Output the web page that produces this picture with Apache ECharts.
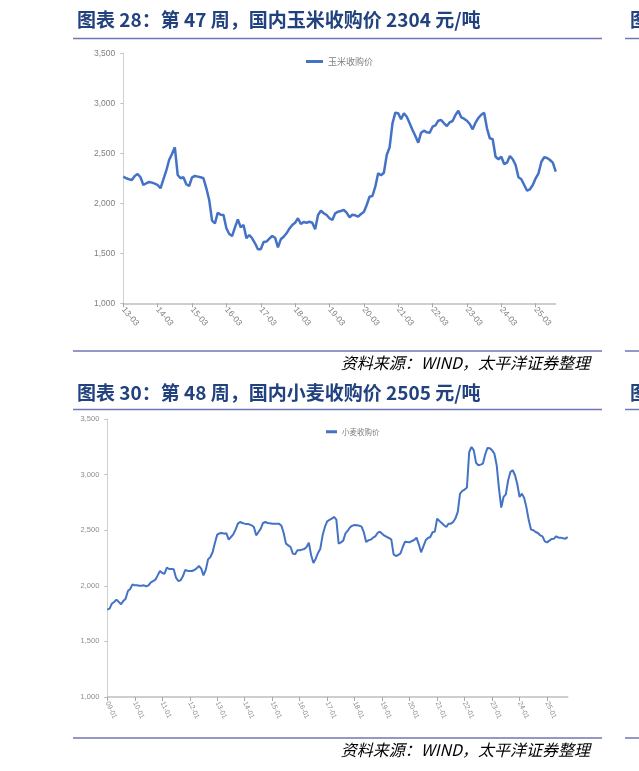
<!DOCTYPE html>
<html><head><meta charset="utf-8">
<script src="https://cdn.jsdelivr.net/npm/echarts@6/dist/echarts.min.js"></script>
<style>html,body{margin:0;padding:0;background:#fff}#c{width:639px;height:771px}</style>
</head><body><div id="c"></div>
<script>
const cornTitle = '图表 28：第 47 周，国内玉米收购价 2304 元/吨';
const wheatTitle = '图表 30：第 48 周，国内小麦收购价 2505 元/吨';
const sourceText = '资料来源：WIND，太平洋证券整理';
const cornName = '玉米收购价';
const wheatName = '小麦收购价';
const yTicks = [1000, 1500, 2000, 2500, 3000, 3500];
const cornTicks = ['13-03','14-03','15-03','16-03','17-03','18-03','19-03','20-03','21-03','22-03','23-03','24-03','25-03'];
const wheatTicks = ['09-01','10-01','11-01','12-01','13-01','14-01','15-01','16-01','17-01','18-01','19-01','20-01','21-01','22-01','23-01','24-01','25-01'];
// monthly values, corn from 2013-03, wheat from 2009-01
const cornValues = [
2267,2250,2240,2233,2273,2293,2260,2183,2200,2213,2207,2197,
2183,2150,2240,2326,2433,2493,2560,2283,2250,2260,2190,2173,
2260,2273,2267,2260,2250,2150,2033,1827,1800,1906,1886,1883,
1750,1693,1673,1760,1840,1760,1783,1650,1683,1650,1600,1540,
1540,1613,1617,1646,1673,1656,1560,1640,1666,1700,1746,1783,
1806,1850,1793,1813,1806,1816,1806,1740,1883,1926,1900,1883,
1850,1833,1900,1916,1923,1933,1906,1860,1886,1880,1866,1893,
1913,1983,2066,2073,2166,2300,2280,2306,2483,2560,2800,2906,
2900,2840,2900,2866,2800,2733,2673,2606,2706,2726,2710,2706,
2766,2780,2826,2833,2800,2773,2810,2823,2883,2926,2860,2846,
2826,2793,2740,2806,2853,2886,2906,2750,2650,2640,2466,2440,
2466,2393,2406,2473,2440,2383,2260,2240,2183,2126,2140,2183,
2250,2300,2416,2460,2453,2433,2406,2316];
const wheatValues = [
1786,1795,1840,1854,1876,1855,1834,1864,1884,1953,1971,2013,
2004,2004,2001,2001,2004,1995,2004,2031,2043,2055,2094,2133,
2115,2109,2163,2151,2151,2148,2073,2043,2049,2085,2142,2136,
2133,2133,2142,2157,2178,2154,2094,2145,2238,2259,2304,2388,
2460,2472,2475,2469,2472,2415,2439,2463,2505,2559,2574,2565,
2559,2556,2553,2544,2529,2454,2484,2514,2565,2574,2565,2562,
2559,2559,2559,2559,2541,2475,2379,2364,2349,2289,2283,2319,
2319,2325,2331,2349,2388,2274,2205,2244,2295,2334,2454,2529,
2580,2592,2604,2619,2595,2379,2391,2406,2472,2496,2526,2541,
2547,2544,2541,2532,2481,2394,2409,2415,2433,2445,2475,2487,
2469,2451,2439,2430,2415,2283,2268,2277,2292,2349,2397,2394,
2391,2403,2412,2433,2373,2301,2355,2409,2430,2439,2481,2487,
2604,2583,2565,2544,2529,2559,2559,2574,2607,2664,2829,2853,
2865,2883,3203,3248,3218,3105,3084,3090,3099,3183,3240,3237,
3218,3188,3084,2874,2703,2799,2823,2949,3024,3039,2994,2913,
2799,2829,2790,2703,2589,2505,2499,2484,2475,2454,2445,2400,
2391,2406,2421,2424,2445,2433,2433,2427,2424,2439];

const chart = echarts.init(document.getElementById('c'), null, {renderer:'canvas'});
const fmtY = v => String(v).replace(/\B(?=(\d{3})+(?!\d))/g, ',');
const titleFont = 'bold 19px "Noto Sans CJK SC"';
const srcFont = 'italic 16px "Noto Sans CJK SC"';
const navy = '#21427F';
const rule = '#7075B5';
function hline(y, x1, x2){ return {type:'line', silent:true, shape:{x1:x1,y1:y,x2:x2,y2:y}, style:{stroke:rule, lineWidth:1.5}}; }
function xAxisCfg(grid, ticks, rot, fs, col, len){
  const idx = ticks.map((t,i)=>i);
  return {type:'value', gridIndex:grid, min:0, max:len,
    axisLine:{show:true, lineStyle:{color:'#BFBFBF', width:1.5}},
    axisTick:{show:true, customValues:idx, length:4, lineStyle:{color:'#A6A6A6'}},
    axisLabel:{customValues:idx, rotate:rot, fontSize:fs, color:col, fontFamily:'Liberation Sans', margin:5,
      formatter: v => ticks[Math.round(v)]},
    splitLine:{show:false}};
}
function yAxisCfg(grid, fs, col){
  return {type:'value', gridIndex:grid, min:yTicks[0], max:yTicks[yTicks.length-1], interval:500,
    axisLine:{show:true, lineStyle:{color:'#D0D0D0', width:1}},
    axisTick:{show:true, length:3, lineStyle:{color:'#BFBFBF'}},
    axisLabel:{fontSize:fs, color:col, fontFamily:'Liberation Sans', margin:8, formatter: fmtY},
    splitLine:{show:false}};
}
const option = {
  animation:false,
  backgroundColor:'#fff',
  grid:[
    {left:123.3, right:83.3, top:53.3, height:250},
    {left:107.3, right:71.3, top:419, height:278}
  ],
  legend:[
    {data:[cornName], icon:'rect', left:301, top:52, itemWidth:17, itemHeight:3, itemGap:3,
     textStyle:{fontSize:9, color:'#7F7F7F', fontFamily:'Noto Sans CJK SC'}},
    {data:[wheatName], icon:'rect', left:321, top:423, itemWidth:11, itemHeight:3, itemGap:2,
     textStyle:{fontSize:7.5, color:'#7F7F7F', fontFamily:'Noto Sans CJK SC'}}
  ],
  xAxis:[
    xAxisCfg(0, cornTicks, -50, 8.5, '#7F7F7F', (cornValues.length-1)/12),
    xAxisCfg(1, wheatTicks, -65, 7, '#8C8C8C', (wheatValues.length-1)/12)
  ],
  yAxis:[ yAxisCfg(0, 8.5, '#7F7F7F'), yAxisCfg(1, 7.5, '#8C8C8C') ],
  series:[
    {name:cornName, type:'line', xAxisIndex:0, yAxisIndex:0, symbol:'none', showSymbol:false,
     lineStyle:{color:'#4472C4', width:2.5}, itemStyle:{color:'#4472C4'},
     data: cornValues.map((v,i)=>[i/12, v])},
    {name:wheatName, type:'line', xAxisIndex:1, yAxisIndex:1, symbol:'none', showSymbol:false,
     lineStyle:{color:'#4472C4', width:2}, itemStyle:{color:'#4472C4'},
     data: wheatValues.map((v,i)=>[i/12, v])}
  ],
  graphic:[
    {type:'text', x:77, y:20, style:{text:cornTitle, font:titleFont, fill:navy, verticalAlign:'middle'}},
    {type:'text', x:630, y:20, style:{text:'图表', font:titleFont, fill:navy, verticalAlign:'middle'}},
    hline(38.5, 73, 602), hline(38.5, 625, 639),
    hline(351, 73, 602), hline(351, 625, 639),
    {type:'text', x:590, y:363, style:{text:sourceText, font:srcFont, fill:'#000', align:'right', verticalAlign:'middle'}},
    {type:'text', x:77, y:393, style:{text:wheatTitle, font:titleFont, fill:navy, verticalAlign:'middle'}},
    {type:'text', x:630, y:393, style:{text:'图表', font:titleFont, fill:navy, verticalAlign:'middle'}},
    hline(409.5, 73, 602), hline(409.5, 625, 639),
    hline(738, 73, 602), hline(738, 625, 639),
    {type:'text', x:590, y:750, style:{text:sourceText, font:srcFont, fill:'#000', align:'right', verticalAlign:'middle'}}
  ]
};
chart.setOption(option);
</script></body></html>
